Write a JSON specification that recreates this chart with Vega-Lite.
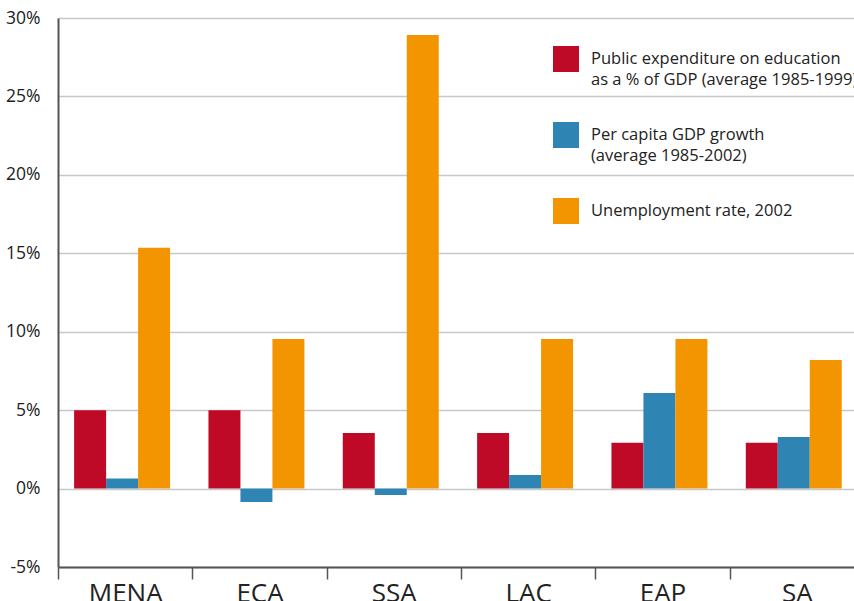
{
  "$schema": "https://vega.github.io/schema/vega-lite/v6.json",
  "width": 796,
  "height": 549,
  "autosize": {"type": "none"},
  "padding": {"left": 58, "top": 18, "right": 0, "bottom": 34},
  "background": "white",
  "config": {
    "view": {"stroke": null},
    "font": "Open Sans",
    "style": {"guide-label": {"lineHeight": 21}}
  },
  "data": {
    "values": [
      {"region": "MENA", "series": "edu", "value": 5.0},
      {"region": "MENA", "series": "gdp", "value": 0.65},
      {"region": "MENA", "series": "unemp", "value": 15.35},
      {"region": "ECA", "series": "edu", "value": 5.0},
      {"region": "ECA", "series": "gdp", "value": -0.85},
      {"region": "ECA", "series": "unemp", "value": 9.53},
      {"region": "SSA", "series": "edu", "value": 3.55},
      {"region": "SSA", "series": "gdp", "value": -0.41},
      {"region": "SSA", "series": "unemp", "value": 28.92},
      {"region": "LAC", "series": "edu", "value": 3.55},
      {"region": "LAC", "series": "gdp", "value": 0.86},
      {"region": "LAC", "series": "unemp", "value": 9.53},
      {"region": "EAP", "series": "edu", "value": 2.92},
      {"region": "EAP", "series": "gdp", "value": 6.1},
      {"region": "EAP", "series": "unemp", "value": 9.53},
      {"region": "SA", "series": "edu", "value": 2.92},
      {"region": "SA", "series": "gdp", "value": 3.28},
      {"region": "SA", "series": "unemp", "value": 8.19}
    ]
  },
  "mark": {"type": "bar"},
  "encoding": {
    "x": {
      "field": "region",
      "type": "nominal",
      "sort": ["MENA", "ECA", "SSA", "LAC", "EAP", "SA"],
      "scale": {"range": [0, 806], "paddingInner": 0, "paddingOuter": 0},
      "axis": {
        "title": null,
        "labelAngle": 0,
        "grid": false,
        "domainColor": "#555555",
        "domainWidth": 2,
        "ticks": true,
        "tickBand": "extent",
        "tickColor": "#555555",
        "tickWidth": 1.5,
        "tickSize": 12,
        "labelFontSize": 26,
        "labelColor": "#222222",
        "labelPadding": 1,
        "labelBaseline": "top"
      }
    },
    "xOffset": {
      "field": "series",
      "type": "nominal",
      "sort": ["edu", "gdp", "unemp"],
      "scale": {"paddingInner": 0, "paddingOuter": 0.6, "align": 0.42}
    },
    "y": {
      "field": "value",
      "type": "quantitative",
      "scale": {"domain": [-5, 30], "nice": false, "zero": false},
      "axis": {
        "title": null,
        "values": [-5, 0, 5, 10, 15, 20, 25, 30],
        "labelExpr": "datum.value + '%'",
        "grid": true,
        "gridColor": "#c8c8c8",
        "gridWidth": 1.5,
        "ticks": false,
        "tickSize": 0,
        "domainColor": "#555555",
        "domainWidth": 2,
        "labelFontSize": 17.5,
        "labelPadding": 18,
        "labelColor": "#222222"
      }
    },
    "color": {
      "field": "series",
      "type": "nominal",
      "scale": {
        "domain": ["edu", "gdp", "unemp"],
        "range": ["#BE0A26", "#2E84B3", "#F39500"]
      },
      "legend": {
        "orient": "none",
        "legendX": 495,
        "legendY": 28,
        "title": null,
        "padding": 0,
        "symbolType": "square",
        "symbolSize": 676,
        "symbolStrokeWidth": 0,
        "symbolOpacity": 1,
        "labelFontSize": 16.5,
        "labelOffset": 12,
        "labelLimit": 400,
        "labelColor": "#222222",
        "rowPadding": 33,
        "labelExpr": "datum.label == 'edu' ? ['Public expenditure on education', 'as a % of GDP (average 1985-1999)'] : datum.label == 'gdp' ? ['Per capita GDP growth', '(average 1985-2002)'] : 'Unemployment rate, 2002'"
      }
    }
  }
}
